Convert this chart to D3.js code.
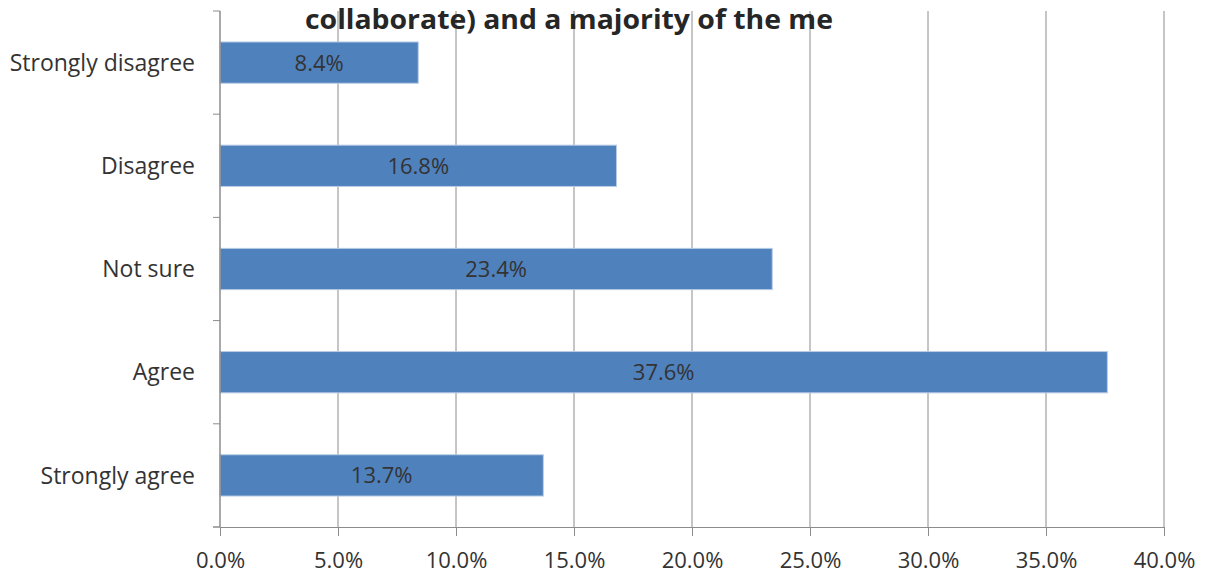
<!DOCTYPE html>
<html>
<head>
<meta charset="utf-8">
<script src="https://cdn.jsdelivr.net/npm/d3@7"></script>
<style>
  body { margin: 0; background: #fff; }
  svg { display: block; }
</style>
</head>
<body>
<svg id="chart" width="1209" height="577"></svg>
<script>
const categories = ["Strongly disagree", "Disagree", "Not sure", "Agree", "Strongly agree"];
const values = [8.4, 16.8, 23.4, 37.6, 13.7];
const xTicks = [0, 5, 10, 15, 20, 25, 30, 35, 40];
const title = "collaborate) and a majority of the me";

const width = 1209;
const height = 577;
const margin = { top: 11, right: 45, bottom: 50, left: 220 };
const innerW = width - margin.left - margin.right;
const innerH = height - margin.top - margin.bottom;
const font = "'Open Sans', 'Noto Sans', sans-serif";

const svg = d3.select("#chart");
const g = svg.append("g").attr("transform", `translate(${margin.left},${margin.top})`);

const x = d3.scaleLinear().domain([0, 40]).range([0, innerW]);
const y = d3.scaleBand().domain(categories).range([0, innerH]).paddingInner(0.6).paddingOuter(0.3);

// vertical gridlines
g.append("g")
  .selectAll("line")
  .data(xTicks.slice(1))
  .enter()
  .append("line")
  .attr("x1", (d) => x(d))
  .attr("x2", (d) => x(d))
  .attr("y1", 0)
  .attr("y2", innerH)
  .attr("stroke", "#8c8c8c")
  .attr("stroke-width", 1);

// bars
g.append("g")
  .selectAll("rect")
  .data(categories)
  .enter()
  .append("rect")
  .attr("x", 0)
  .attr("y", (d) => y(d))
  .attr("width", (d, i) => x(values[i]))
  .attr("height", y.bandwidth())
  .attr("fill", "#4f81bd")
  .attr("stroke", "#b9cde5")
  .attr("stroke-width", 1);

// value labels
g.append("g")
  .selectAll("text")
  .data(categories)
  .enter()
  .append("text")
  .attr("x", (d, i) => x(values[i]) / 2)
  .attr("y", (d) => y(d) + y.bandwidth() / 2)
  .attr("dy", "0.36em")
  .attr("text-anchor", "middle")
  .attr("font-family", font)
  .attr("font-size", 22)
  .attr("fill", "#333")
  .text((d, i) => `${values[i].toFixed(1)}%`);

// x axis
g.append("g")
  .attr("transform", `translate(0,${innerH})`)
  .call(d3.axisBottom(x).tickValues(xTicks).tickSize(9).tickSizeOuter(0).tickPadding(16)
    .tickFormat((v) => `${v.toFixed(1)}%`))
  .call((axis) => axis.selectAll("text").attr("fill", "#333").attr("font-size", 22).attr("font-family", font))
  .call((axis) => axis.selectAll("line,path").attr("stroke", "#8c8c8c"));

g.append("line")
  .attr("x1", -7).attr("x2", 0)
  .attr("y1", innerH).attr("y2", innerH)
  .attr("stroke", "#8c8c8c");

// y axis
const yBounds = d3.range(categories.length + 1).map((i) => (innerH / categories.length) * i);
g.append("line")
  .attr("x1", 0).attr("x2", 0)
  .attr("y1", 0).attr("y2", innerH)
  .attr("stroke", "#8c8c8c")
  .attr("stroke-width", 1.5);
g.append("g")
  .selectAll("line")
  .data(yBounds)
  .enter()
  .append("line")
  .attr("x1", -7).attr("x2", 0)
  .attr("y1", (d) => d).attr("y2", (d) => d)
  .attr("stroke", "#8c8c8c");
g.append("g")
  .selectAll("text")
  .data(categories)
  .enter()
  .append("text")
  .attr("x", -25)
  .attr("y", (d) => y(d) + y.bandwidth() / 2)
  .attr("dy", "0.36em")
  .attr("text-anchor", "end")
  .attr("font-family", font)
  .attr("font-size", 23)
  .attr("fill", "#333")
  .text((d) => d);

// title (only its last line is visible in the frame)
svg.append("text")
  .attr("x", 305)
  .attr("y", 29)
  .attr("font-family", font)
  .attr("font-weight", "bold")
  .attr("font-size", 26)
  .attr("textLength", 528)
  .attr("lengthAdjust", "spacingAndGlyphs")
  .attr("fill", "#262626")
  .text(title);
</script>
</body>
</html>
